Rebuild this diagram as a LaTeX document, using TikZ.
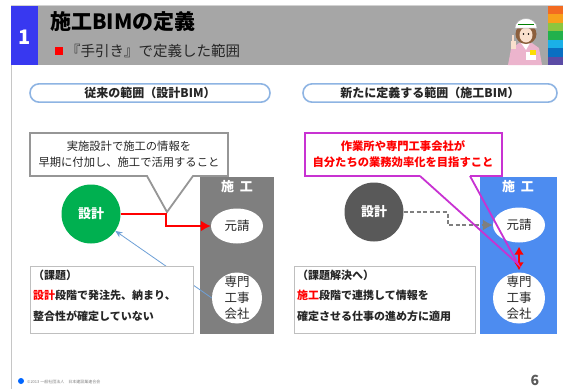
\documentclass[tikz,border=0pt]{standalone}
\usepackage{fontspec}
\setmainfont{Noto Sans CJK JP}
\usetikzlibrary{shapes.geometric,arrows.meta}

\definecolor{hdrgray}{RGB}{166,166,166}
\definecolor{numblue}{RGB}{56,56,240}
\definecolor{pillblue}{RGB}{142,180,227}
\definecolor{dsgreen}{RGB}{0,176,80}
\definecolor{dsdark}{RGB}{89,89,89}
\definecolor{colgray}{RGB}{127,127,127}
\definecolor{colblue}{RGB}{77,140,240}
\definecolor{magline}{RGB}{200,50,210}
\definecolor{linkblue}{RGB}{110,160,215}
\definecolor{boxgray}{RGB}{191,191,191}
\definecolor{calloutgray}{RGB}{150,150,150}
\definecolor{txtdark}{RGB}{38,38,38}
\definecolor{skin}{RGB}{250,224,205}
\definecolor{hair}{RGB}{140,95,60}
\definecolor{suit}{RGB}{236,180,205}

\newcommand{\fsz}[2]{\fontsize{#1}{#2}\selectfont}

\begin{document}
\begin{tikzpicture}[x=1pt,y=-1pt,
  pill/.style={draw=pillblue, line width=1.6pt, rounded corners=9pt, fill=white,
    minimum height=18pt, font=\fsz{12}{14}\bfseries, text=txtdark},
  bigdot/.style={circle, minimum size=59pt, inner sep=0pt, text=white,
    font=\fsz{13}{15}\bfseries},
  ell/.style={ellipse, fill=white, inner sep=0pt},
  ellfont/.style={font=\fsz{12.5}{16}, text=txtdark, align=center},
  colhead/.style={text=white, font=\fsz{13}{15}\bfseries},
  issuebox/.style={draw=boxgray, line width=0.9pt, fill=white},
  issuetext/.style={align=left, anchor=north west, inner sep=0pt,
    font=\fsz{11}{20.5}\bfseries, text=txtdark},
  calltext/.style={align=center, font=\fsz{11.3}{16}},
  redlink/.style={draw=red, line width=1.8pt,
    -{Latex[length=10pt,width=11pt,fill=red]}},
  bluelink/.style={draw=linkblue, line width=0.8pt, -{Stealth[length=7pt,width=6pt]}},
  graylink/.style={draw=colgray, line width=1.6pt, dash pattern=on 4pt off 2.5pt,
    -{Latex[length=10pt,width=11pt,fill=colgray]}},
  twoway/.style={draw=red, line width=2.2pt,
    {Latex[length=8pt,width=10pt,fill=red]}-{Latex[length=8pt,width=10pt,fill=red]}}
]
\useasboundingbox (0,0) rectangle (563,389);
\fill[white] (0,0) rectangle (563,389);

% ---------- header band ----------
\draw[gray!35, line width=0.8pt] (11,5) -- (563,5);
\fill[hdrgray] (11,6) rectangle (563,65);
\fill[numblue] (11,6) rectangle (38,65);
\node[text=white, font=\fsz{20}{22}\bfseries] (num) at (24.5,37) {1};
\node[anchor=west, inner sep=0pt, font=\fsz{21}{24}\bfseries, text=black] (title) at (50,22) {施工BIMの定義};
\fill[red] (55,47) rectangle (62.5,55);
\node[anchor=west, inner sep=0pt, font=\fsz{14.5}{16}, text=txtdark] (subtitle) at (66,51) {『手引き』で定義した範囲};

% colour stripes
\foreach \c [count=\i from 0] in {{243,107,33},{248,161,27},{140,198,63},{34,177,76},{26,176,232},{10,111,194},{91,75,165}}{
  \definecolor{stripe}{RGB}{\c}
  \fill[stripe] (548,6+\i*8.43) rectangle (563,6+\i*8.43+8.43);
}

% engineer figure
\fill[suit] (508,65) -- (511,49) -- (519,43) -- (532,43) -- (539,48) -- (542,65) -- cycle;
\fill[white] (521,43) -- (526,50) -- (530,43) -- cycle;
\fill[hair] (526,34) ellipse[x radius=10.5, y radius=10];
\fill[skin] (526,35) ellipse[x radius=6.5, y radius=7.5];
\fill[black] (523.5,34) circle[radius=0.9];
\fill[black] (528.5,34) circle[radius=0.9];
\filldraw[fill=white, draw=gray!60, line width=0.5pt] (515,28) arc[start angle=180, end angle=360, x radius=11, y radius=9.5] -- cycle;
\draw[green!50!black, line width=0.6pt] (518,24) -- (534,24);
\fill[skin] (510.5,49) rectangle (515.5,41);
\fill[skin] (512.2,41) rectangle (514,34.5);
\fill[white] (526,52) rectangle (536,60);
\fill[yellow!80!orange] (530,50) rectangle (536,55);

% left margin rule
\draw[gray!45, line width=0.9pt] (11,65) -- (11,389);

% ---------- left panel: conventional scope ----------
\node[pill, minimum width=240pt] (pillL) at (150,93) {従来の範囲（設計BIM）};

\node[fill=colgray, minimum width=74pt, minimum height=157pt, anchor=north west, inner sep=0pt] (colL) at (200,177) {};
\node[colhead] (colLhead) at (237,187) {施\hspace{6pt}工};
\node[ell, minimum width=52pt, minimum height=35pt] (genL) at (237,226) {};
\node[ellfont] (genLt) at (genL) {元請};
\node[ell, minimum width=50pt, minimum height=51pt] (senL) at (237,298) {};
\node[ellfont] (senLt) at (senL) {専門\\工事\\会社};

\node[bigdot, fill=dsgreen] (dsL) at (91,214) {設計};

\coordinate (cL1) at (147,176);
\coordinate (cL2) at (193,176);
\coordinate (cLtip) at (167,212);
\draw[calloutgray, line width=1.8pt, fill=white, line join=miter]
  (cL1) -- (30,176) -- (30,133) -- (228,133) -- (228,176) -- (cL2) -- (cLtip) -- cycle;
\node[calltext, text=txtdark] (callL) at (129,154) {実施設計で施工の情報を\\早期に付加し、施工で活用すること};

\draw[redlink] (dsL.east) -- ++(45,0) |- (genL.west);
\draw[bluelink] (senL.west) -- (dsL);

\node[issuebox, minimum width=163pt, minimum height=67pt, anchor=north west] (issueL) at (30,266) {};
\node[issuetext] (issueLt) at (33,269.5) {（課題）\\{\color{red}設計}段階で発注先、納まり、\\整合性が確定していない};

% ---------- right panel: newly defined scope ----------
\node[pill, minimum width=254pt] (pillR) at (430,93) {新たに定義する範囲（施工BIM）};

\node[fill=colblue, minimum width=77pt, minimum height=157pt, anchor=north west, inner sep=0pt] (colR) at (480,177) {};
\node[colhead] (colRhead) at (518,187) {施\hspace{6pt}工};
\node[ell, minimum width=52pt, minimum height=35pt] (genR) at (519,225) {};
\node[ellfont] (genRt) at (genR) {元請};
\node[ell, minimum width=52pt, minimum height=51pt] (senR) at (519,298) {};
\node[ellfont] (senRt) at (senR) {専門\\工事\\会社};

\node[bigdot, fill=dsdark] (dsR) at (374,212) {設計};

\draw[graylink] (dsR.east) -- ++(44,0) |- (genR.west);
\draw[twoway] ([yshift=-4pt]genR.south) -- ([yshift=2pt]senR.north);

\coordinate (cR1) at (420,176);
\coordinate (cR2) at (470,176);
\coordinate (cRtip) at (518,264);
\draw[magline, line width=1.8pt, fill=white, line join=miter]
  (cR1) -- (305,176) -- (305,133) -- (502,133) -- (502,176) -- (cR2);
\draw[magline, line width=1.8pt, line join=miter] (cR1) -- (cRtip) -- (cR2);
\node[calltext, text=red, font=\fsz{11.3}{16}\bfseries] (callR) at (403,154) {作業所や専門工事会社が\\自分たちの業務効率化を目指すこと};

\node[issuebox, minimum width=181pt, minimum height=67pt, anchor=north west] (issueR) at (294,266) {};
\node[issuetext] (issueRt) at (297,269.5) {（課題解決へ）\\{\color{red}施工}段階で連携して情報を\\確定させる仕事の進め方に適用};

% ---------- footer ----------
\fill[blue!60!cyan] (21,381) circle[radius=3];
\node[anchor=west, inner sep=0pt, font=\fsz{4}{5}, text=gray] (copy) at (27,382) {©2013 一般社団法人　日本建設業連合会};
\node[font=\fsz{14}{16}\bfseries, text=dsdark] (pageno) at (535,380) {6};
\end{tikzpicture}
\end{document}
